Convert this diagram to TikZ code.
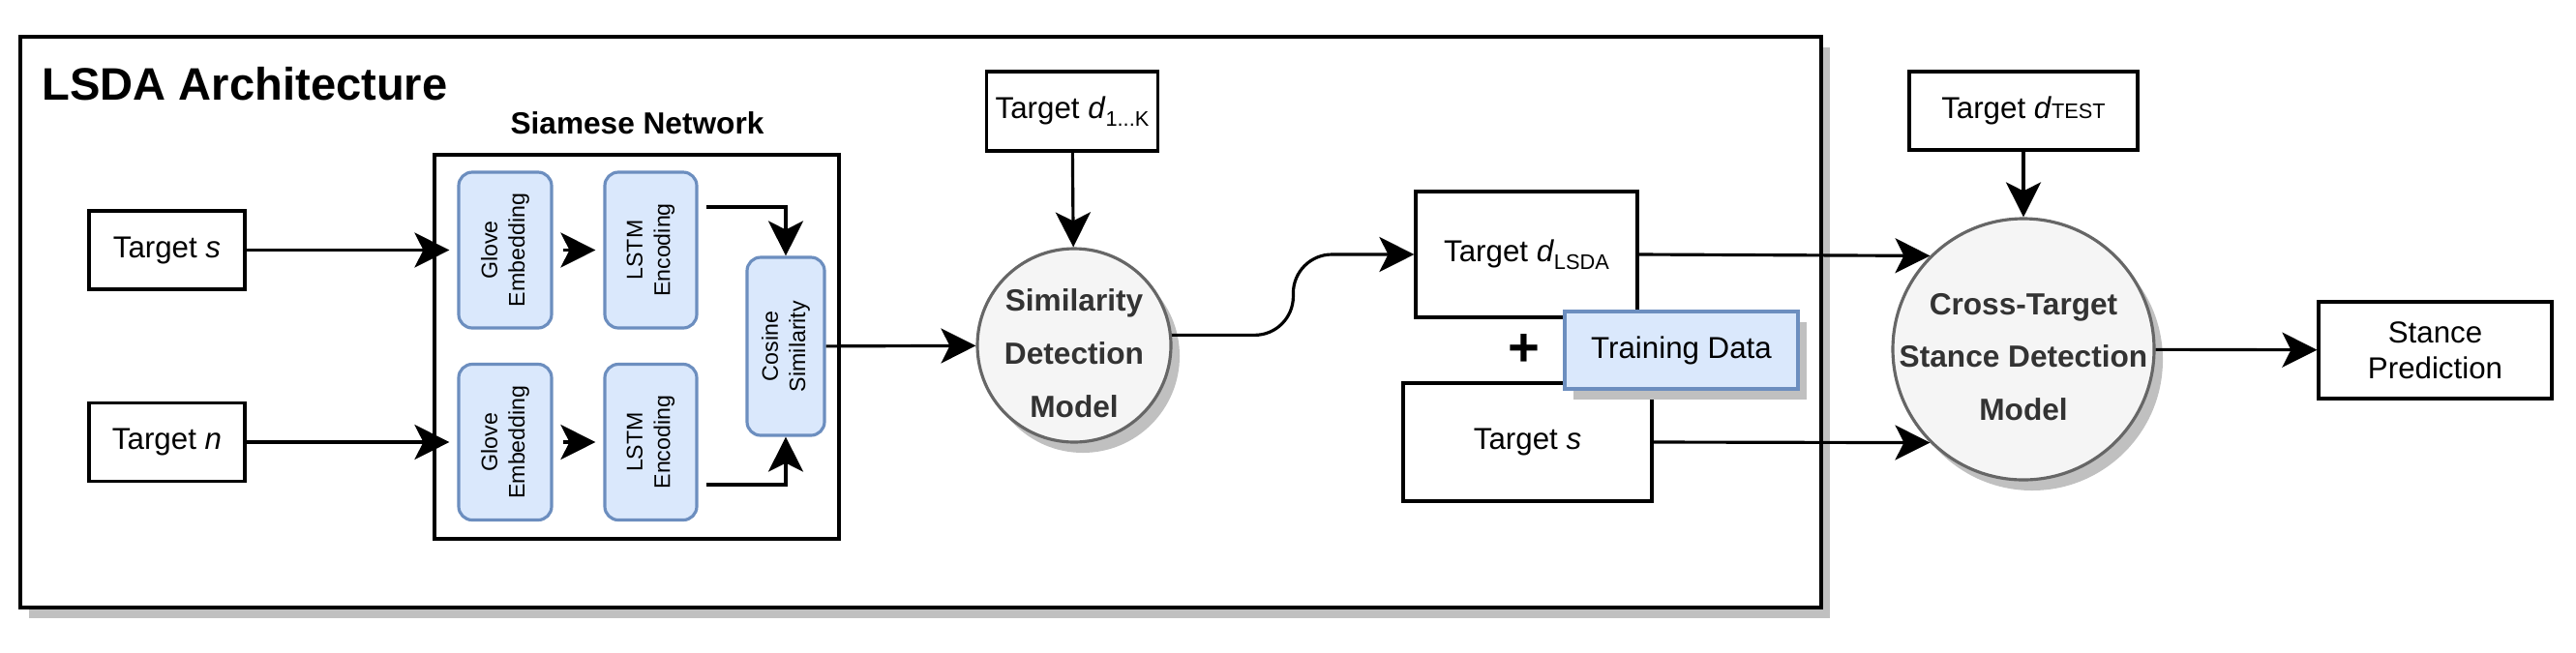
\documentclass[tikz,border=0pt]{standalone}
\usepackage{fontspec}
\setmainfont{Liberation Sans}
\usepackage{xcolor}
\usepackage{tikz}
\usetikzlibrary{arrows.meta, shadows}
\definecolor{embedbg}{HTML}{DAE8FC}
\definecolor{embedline}{HTML}{6C8EBF}
\definecolor{modelbg}{HTML}{F5F5F5}
\definecolor{modelline}{HTML}{666666}
\definecolor{modeltext}{HTML}{333333}
\definecolor{shadowgray}{HTML}{C0C0C0}
\newcommand{\lowsub}[1]{\raisebox{-0.5ex}{\fontsize{6.2}{7}\selectfont #1}}

\begin{document}
\begin{tikzpicture}[
    box/.style={rectangle, draw, line width=0.9pt, fill=white, align=center, inner sep=0pt, font=\fontsize{8.9}{10.7}\selectfont},
    embed/.style={rectangle, rounded corners=0.14cm, draw=embedline, line width=0.9pt, fill=embedbg, align=center, inner sep=0pt, rotate=90, font=\fontsize{6.6}{8.1}\selectfont},
    shadowed/.style={drop shadow={shadow xshift=0.09cm, shadow yshift=-0.11cm, fill=shadowgray, opacity=1}},
    model/.style={circle, draw=modelline, line width=0.9pt, fill=modelbg, inner sep=0pt, shadowed},
    modeltxt/.style={align=center, text=modeltext, yshift=-0.08cm, font=\fontsize{9}{15.6}\selectfont\bfseries},
    arrow/.style={-{Stealth[length=0.36cm, width=0.36cm, inset=0.09cm]}, line width=0.9pt}
]
\useasboundingbox (0,0) rectangle (26.62,6.74);

% LSDA part
\node[box, shadowed, line width=1.1pt, minimum width=18.61cm, minimum height=5.90cm] (lsda) at (9.515,3.41) {};
\node[anchor=base west, inner sep=0pt, font=\fontsize{13.4}{16}\selectfont\bfseries] (title) at (0.43,5.71) {LSDA Architecture};
\node[anchor=base, inner sep=0pt, font=\fontsize{9}{11}\selectfont\bfseries] (siamlabel) at (6.585,5.36) {Siamese Network};
\node[box, minimum width=4.18cm, minimum height=3.97cm] (siamese) at (6.58,3.155) {};

\node[box, minimum width=1.61cm, minimum height=0.81cm] (tgts) at (1.725,4.155) {Target \textit{s}};
\node[box, minimum width=1.61cm, minimum height=0.81cm] (tgtn) at (1.725,2.17) {Target \textit{n}};

\node[embed, minimum width=1.61cm, minimum height=0.96cm] (glove1) at (5.22,4.155) {Glove\\Embedding};
\node[embed, minimum width=1.61cm, minimum height=0.95cm] (lstm1) at (6.725,4.155) {LSTM\\Encoding};
\node[embed, minimum width=1.61cm, minimum height=0.96cm] (glove2) at (5.22,2.17) {Glove\\Embedding};
\node[embed, minimum width=1.61cm, minimum height=0.95cm] (lstm2) at (6.725,2.17) {LSTM\\Encoding};
\node[embed, minimum width=1.84cm, minimum height=0.80cm] (cosine) at (8.12,3.16) {Cosine\\Similarity};

\node[box, minimum width=1.77cm, minimum height=0.82cm] (tgtd1) at (11.08,5.59) {Target \textit{d}\lowsub{1...K}};
\node[model, minimum size=2cm, label={[modeltxt]center:Similarity\\Detection\\Model}] (sdm) at (11.10,3.17) {};

\node[box, minimum width=2.29cm, minimum height=1.30cm] (dlsda) at (15.775,4.11) {Target \textit{d}\lowsub{LSDA}};
\node[box, minimum width=2.57cm, minimum height=1.22cm] (tgts2) at (15.785,2.17) {Target \textit{s}};
\node[box, shadowed, draw=embedline, fill=embedbg, minimum width=2.41cm, minimum height=0.80cm] (trdata) at (17.375,3.12) {Training Data};
\node[font=\fontsize{16}{16}\selectfont\bfseries] (plus) at (15.75,3.12) {+};

% cross-target part
\node[box, minimum width=2.36cm, minimum height=0.81cm] (tgtdt) at (20.91,5.595) {Target \textit{d}{\fontsize{6.2}{7}\selectfont TEST}};
\node[model, minimum size=2.7cm, label={[modeltxt]center:Cross-Target\\Stance Detection\\Model}] (ctsd) at (20.91,3.13) {};
\node[box, minimum width=2.41cm, minimum height=1.00cm, font=\fontsize{8.9}{10.5}\selectfont] (pred) at (25.165,3.12) {Stance\\Prediction};

\draw[arrow, shorten >=0.08cm] (tgts) -- (glove1);
\draw[arrow, shorten >=0.08cm] (tgtn) -- (glove2);
\draw[arrow, shorten <=0.1cm, shorten >=0.08cm] (glove1) -- (lstm1);
\draw[arrow, shorten <=0.1cm, shorten >=0.08cm] (glove2) -- (lstm2);
\draw[arrow] ([xshift=0.57cm, yshift=0.445cm]lstm1.center) -| (cosine);
\draw[arrow] ([xshift=0.57cm, yshift=-0.44cm]lstm2.center) -| (cosine);
\draw[arrow] (cosine) -- (sdm);
\draw[arrow] (tgtd1) -- (sdm);
\draw[arrow, rounded corners=0.4cm] (sdm.6) -| ([xshift=-1.25cm]dlsda.west) -- (dlsda.west);
\draw[arrow] (dlsda.east) -- (ctsd.135);
\draw[arrow] (tgts2.east) -- (ctsd.225);
\draw[arrow] (tgtdt) -- (ctsd);
\draw[arrow] (ctsd) -- (pred);

\end{tikzpicture}
\end{document}
